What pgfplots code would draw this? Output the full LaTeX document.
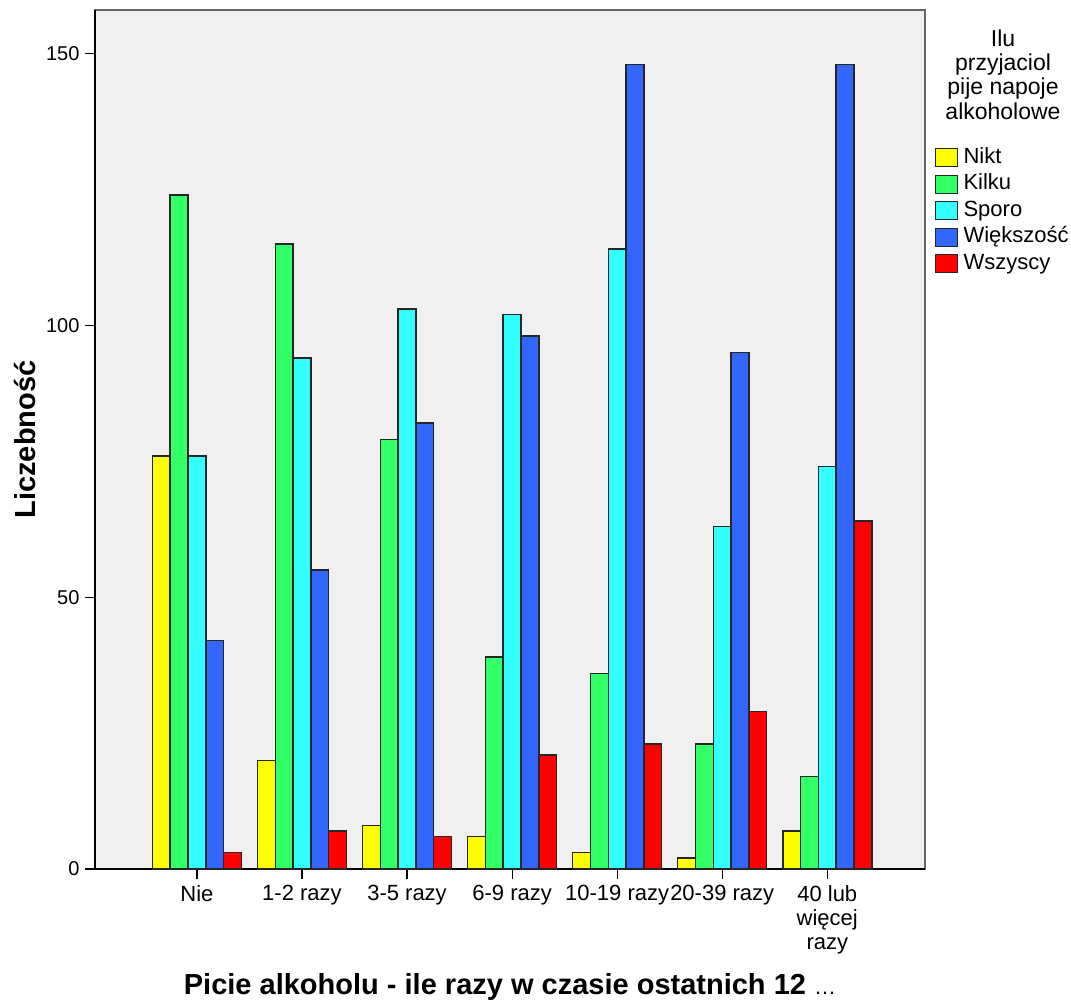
\documentclass[border=0pt]{standalone}
\usepackage{pgfplots}
\pgfplotsset{compat=1.18}
\usepackage{fontspec}
\setmainfont{Liberation Sans}
\definecolor{cNikt}{HTML}{FFFF00}
\definecolor{cKilku}{HTML}{33FF66}
\definecolor{cSporo}{HTML}{33FFFF}
\definecolor{cWiek}{HTML}{3366FF}
\definecolor{cWsz}{HTML}{FF0000}
\definecolor{bg}{HTML}{F0F0F0}
\begin{document}
\begin{tikzpicture}[x=1pt,y=1pt]
\path[use as bounding box] (-95,-133) rectangle (976,869);
\begin{axis}[
  at={(0pt,0pt)}, anchor=south west,
  scale only axis, width=830pt, height=859pt,
  xmin=-0.97, xmax=6.93, ymin=0, ymax=158,
  ybar=0pt, bar width=17.8pt,
  axis x line=bottom, axis y line=left,
  axis line style={-, black, line width=1.5pt},
  axis background/.style={fill=bg, draw=black!60, line width=1.5pt},
  tick align=outside, major tick length=10pt,
  tick style={black, line width=1.2pt},
  xtick={0,...,6},
  xticklabels={Nie,1-2 razy,3-5 razy,6-9 razy,10-19 razy,20-39 razy,{40 lub\\więcej\\razy}},
  xticklabel style={align=center, font=\fontsize{22}{24}\selectfont, yshift=-3pt},
  ytick={0,50,100,150},
  yticklabel style={font=\fontsize{20}{24}\selectfont, xshift=-2pt},
  /pgf/number format/assume math mode=true,
  ylabel={\textbf{Liczebność}},
  ylabel style={font=\fontsize{29}{32}\selectfont, at={(axis description cs:-0.084,0.5)}, anchor=center},
  xlabel={\textbf{Picie alkoholu - ile razy w czasie ostatnich 12} {\fontsize{22}{24}\selectfont\ldots}},
  xlabel style={font=\fontsize{29}{32}\selectfont, at={(axis description cs:0.5,-0.137)}, anchor=center},
  every axis plot/.append style={draw=black!85, line width=1.5pt},
  legend style={at={(rel axis cs:1,1)}, anchor=north west, xshift=10pt, yshift=-137pt,
    draw=none, fill=none, inner sep=0pt, font=\fontsize{22}{24}\selectfont,
    row sep=5.5pt, nodes={inner sep=0pt, text height=16pt, text depth=5pt}},
  legend cell align=left,
  legend image code/.code={\draw[#1, line width=1.2pt] (0pt,-9pt) rectangle (22pt,9pt); \path (27pt,0pt);},
]
\addplot[fill=cNikt] coordinates {(0,76) (1,20) (2,8) (3,6) (4,3) (5,2) (6,7)};
\addplot[fill=cKilku] coordinates {(0,124) (1,115) (2,79) (3,39) (4,36) (5,23) (6,17)};
\addplot[fill=cSporo] coordinates {(0,76) (1,94) (2,103) (3,102) (4,114) (5,63) (6,74)};
\addplot[fill=cWiek] coordinates {(0,42) (1,55) (2,82) (3,98) (4,148) (5,95) (6,148)};
\addplot[fill=cWsz] coordinates {(0,3) (1,7) (2,6) (3,21) (4,23) (5,29) (6,64)};
\legend{Nikt,Kilku,Sporo,Większość,Wszyscy}
\end{axis}
\node[align=center, anchor=north, font=\fontsize{23}{24.3}\selectfont] at (908,843) {Ilu\\przyjaciol\\pije napoje\\alkoholowe};
\end{tikzpicture}
\end{document}
